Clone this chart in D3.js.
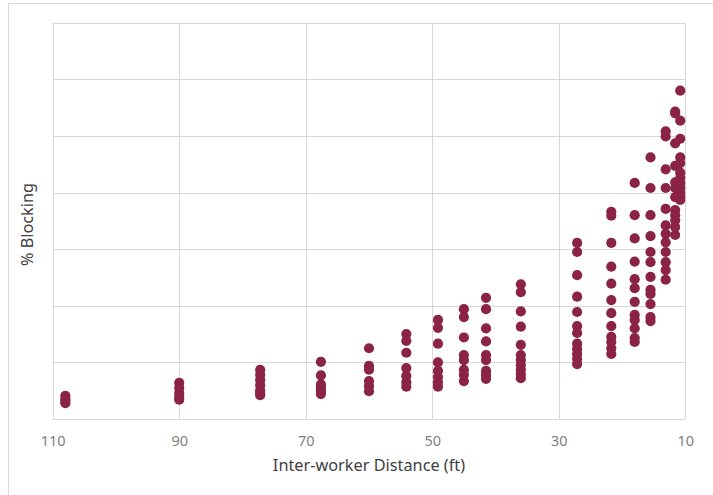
<!DOCTYPE html>
<html>
<head>
<meta charset="utf-8">
<script src="https://cdn.jsdelivr.net/npm/d3@7"></script>
<style>
  html, body { margin: 0; padding: 0; background: #fff; }
  svg { display: block; }
</style>
</head>
<body>
<svg id="chart" width="713" height="495"></svg>
<script>
// ---- data ----
const distances = [108, 90, 77.2, 67.6, 60, 54.1, 49.1, 45, 41.5, 36, 27.1, 21.7, 18, 15.5, 13.1, 11.6, 10.8];
const blocking = [
  [0.41, 0.35, 0.32, 0.28],
  [0.64, 0.55, 0.46, 0.39, 0.34],
  [0.87, 0.78, 0.69, 0.60, 0.51, 0.46, 0.42],
  [1.01, 0.77, 0.61, 0.55, 0.49, 0.44],
  [1.25, 0.94, 0.87, 0.67, 0.58, 0.49],
  [1.50, 1.38, 1.17, 0.90, 0.76, 0.65, 0.57],
  [1.75, 1.61, 1.33, 1.00, 0.85, 0.74, 0.65, 0.57],
  [1.94, 1.80, 1.44, 1.13, 1.04, 0.87, 0.78, 0.67],
  [2.14, 1.94, 1.60, 1.37, 1.13, 1.04, 0.85, 0.78, 0.71],
  [2.38, 2.24, 1.90, 1.63, 1.31, 1.13, 1.04, 0.95, 0.87, 0.79, 0.72],
  [3.11, 2.95, 2.54, 2.16, 1.89, 1.64, 1.52, 1.33, 1.24, 1.15, 1.06, 0.97],
  [3.66, 3.59, 3.11, 2.69, 2.39, 2.10, 1.87, 1.64, 1.45, 1.36, 1.25, 1.15],
  [4.17, 3.60, 3.19, 2.78, 2.47, 2.31, 2.07, 1.84, 1.75, 1.60, 1.43, 1.36],
  [4.62, 4.08, 3.60, 3.23, 2.95, 2.77, 2.51, 2.28, 2.21, 2.03, 1.80, 1.73],
  [5.08, 4.99, 4.41, 4.08, 3.71, 3.42, 3.27, 3.12, 2.95, 2.77, 2.63, 2.46],
  [5.43, 5.40, 4.87, 4.47, 4.18, 4.08, 3.92, 3.69, 3.60, 3.51, 3.39, 3.25],
  [5.80, 5.27, 4.95, 4.62, 4.52, 4.35, 4.26, 4.17, 4.08, 4.00, 3.92, 3.87]
];
const xTicks = [110, 90, 70, 50, 30, 10];
const yGrid = [0, 1, 2, 3, 4, 5, 6, 7];
const xTitle = "Inter-worker Distance (ft)";
const yTitle = "% Blocking";

// ---- layout ----
const svg = d3.select("#chart");
const plot = { left: 52.7, right: 685.3, top: 22.7, bottom: 419 };
const x = d3.scaleLinear().domain([110, 10]).range([plot.left, plot.right]);
const y = d3.scaleLinear().domain([0, 7]).range([plot.bottom, plot.top]);

const points = [];
distances.forEach((d, i) => blocking[i].forEach(v => points.push({ d, v })));

// chart area border
svg.append("rect")
  .attr("x", 8.5).attr("y", 3.5)
  .attr("width", 800).attr("height", 600)
  .attr("fill", "none").attr("stroke", "#d9d9d9").attr("stroke-width", 1);

// horizontal gridlines
svg.append("g").selectAll("line").data(yGrid).join("line")
  .attr("x1", plot.left).attr("x2", plot.right)
  .attr("y1", d => Math.round(y(d)) + 0.5).attr("y2", d => Math.round(y(d)) + 0.5)
  .attr("stroke", "#d9d9d9").attr("stroke-width", 1);

// vertical gridlines
svg.append("g").selectAll("line").data(xTicks).join("line")
  .attr("x1", d => Math.round(x(d)) + 0.5).attr("x2", d => Math.round(x(d)) + 0.5)
  .attr("y1", plot.top).attr("y2", plot.bottom)
  .attr("stroke", "#d9d9d9").attr("stroke-width", 1);

// x axis (labels only)
const xAxis = d3.axisBottom(x).tickValues(xTicks).tickSize(0).tickPadding(0).tickFormat(d3.format("d"));
const gx = svg.append("g").attr("transform", `translate(0,${plot.bottom})`).call(xAxis);
gx.select(".domain").remove();
gx.selectAll("text")
  .attr("dy", null).attr("y", 27)
  .attr("fill", "#808080")
  .style("font-family", "'Noto Sans', 'Open Sans', sans-serif")
  .style("font-size", "14.5px");

// markers
svg.append("g").selectAll("circle").data(points).join("circle")
  .attr("cx", p => x(p.d)).attr("cy", p => y(p.v)).attr("r", 5.1)
  .attr("fill", "#8b2346");

// axis titles
svg.append("text")
  .attr("x", (plot.left + plot.right) / 2).attr("y", 471)
  .attr("text-anchor", "middle")
  .attr("fill", "#404040")
  .style("font-family", "'Noto Sans', 'Open Sans', sans-serif")
  .style("font-size", "16.3px")
  .text(xTitle);

svg.append("text")
  .attr("transform", "translate(33,224.5) rotate(-90)")
  .attr("text-anchor", "middle")
  .attr("fill", "#404040")
  .style("font-family", "'Noto Sans', 'Open Sans', sans-serif")
  .style("font-size", "16.3px")
  .text(yTitle);
</script>
</body>
</html>
